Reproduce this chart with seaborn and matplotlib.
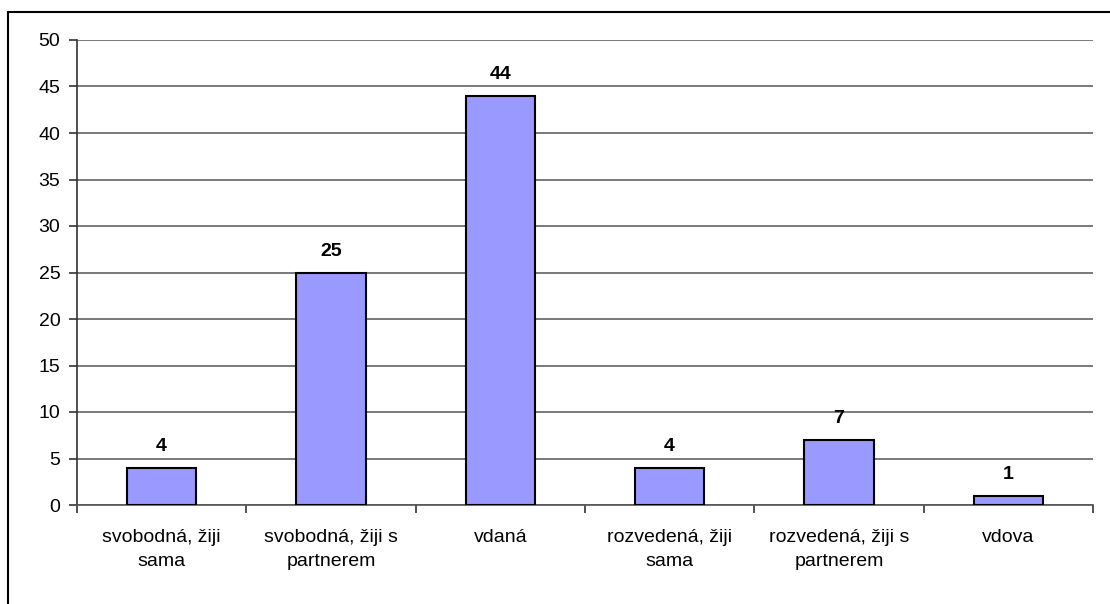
import matplotlib
matplotlib.use("Agg")
import matplotlib.pyplot as plt
from matplotlib.lines import Line2D
import seaborn as sns
import pandas as pd

categories = ["svobodná, žiji\nsama", "svobodná, žiji s\npartnerem", "vdaná",
              "rozvedená, žiji\nsama", "rozvedená, žiji s\npartnerem", "vdova"]
counts = [4, 25, 44, 4, 7, 1]
y_ticks = [0, 5, 10, 15, 20, 25, 30, 35, 40, 45, 50]

sns.set_theme(style="white")
plt.rcParams["font.family"] = ["Liberation Sans", "DejaVu Sans"]
plt.rcParams["text.color"] = "black"
plt.rcParams["xtick.color"] = "black"
plt.rcParams["ytick.color"] = "black"

df = pd.DataFrame({"kategorie": categories, "pocet": counts})

fig = plt.figure(figsize=(11.10, 6.04), dpi=100)
ax = fig.add_axes([77 / 1110, 1 - 505 / 604, (1093 - 77) / 1110, (505 - 40) / 604])

sns.barplot(data=df, x="kategorie", y="pocet", color="#9999FF", saturation=1,
            width=0.41, edgecolor="black", linewidth=1.5, ax=ax, zorder=3)

ax.set_ylim(0, 50)
ax.set_xlim(-0.5, len(categories) - 0.5)
ax.set_yticks(y_ticks)
ax.yaxis.grid(True, color="#555555", linewidth=1.1, zorder=0)
ax.xaxis.grid(False)
ax.set_axisbelow(True)
ax.set_xlabel("")
ax.set_ylabel("")

for side in ["top", "right"]:
    ax.spines[side].set_visible(False)
ax.spines["left"].set_color("#333333")
ax.spines["bottom"].set_color("#555555")
ax.spines["left"].set_linewidth(1.2)
ax.spines["bottom"].set_linewidth(1.2)

ax.tick_params(axis="y", which="both", left=True, length=6, width=1.2, color="#333333",
               labelsize=14, pad=6)
ax.tick_params(axis="x", bottom=False, labelsize=14, pad=11)
for lbl in ax.get_xticklabels():
    lbl.set_linespacing(1.55)

# category separators below the axis
ax.set_xticks([i - 0.5 for i in range(len(categories) + 1)], minor=True)
ax.tick_params(axis="x", which="minor", bottom=True, length=6, width=1.2, color="#333333")

for i, v in enumerate(counts):
    ax.annotate(str(v), (i, v), xytext=(0, 9), textcoords="offset points",
                ha="center", va="bottom", fontsize=14, fontweight="bold", color="black")

# chart area frame
fig.add_artist(Line2D([8 / 1110, 8 / 1110], [0, 1 - 12 / 604], transform=fig.transFigure,
                      color="black", linewidth=1.5))
fig.add_artist(Line2D([8 / 1110, 1], [1 - 12 / 604, 1 - 12 / 604], transform=fig.transFigure,
                      color="black", linewidth=1.5))

fig.savefig("out.png", dpi=100)
